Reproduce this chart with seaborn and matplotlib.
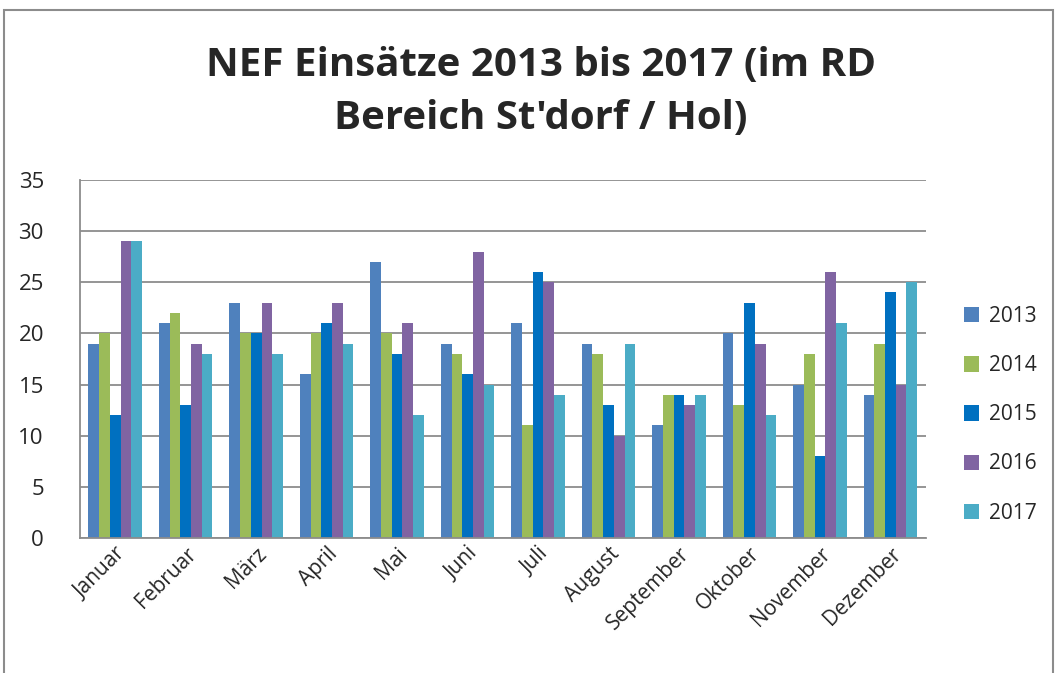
import pandas as pd
import matplotlib.pyplot as plt
import seaborn as sns
from matplotlib.patches import Rectangle

# Data
monate = ['Januar', 'Februar', 'März', 'April', 'Mai', 'Juni', 'Juli',
          'August', 'September', 'Oktober', 'November', 'Dezember']
jahre = ['2013', '2014', '2015', '2016', '2017']
werte_2013 = [19, 21, 23, 16, 27, 19, 21, 19, 11, 20, 15, 14]
werte_2014 = [20, 22, 20, 20, 20, 18, 11, 18, 14, 13, 18, 19]
werte_2015 = [12, 13, 20, 21, 18, 16, 26, 13, 14, 23, 8, 24]
werte_2016 = [29, 19, 23, 23, 21, 28, 25, 10, 13, 19, 26, 15]
werte_2017 = [29, 18, 18, 19, 12, 15, 14, 19, 14, 12, 21, 25]
farben = ['#4F81BD', '#9BBB59', '#0070C0', '#8064A2', '#4BACC6']

rows = []
for jahr, werte in zip(jahre, [werte_2013, werte_2014, werte_2015, werte_2016, werte_2017]):
    for monat, w in zip(monate, werte):
        rows.append({'Monat': monat, 'Jahr': jahr, 'Einsaetze': w})
df = pd.DataFrame(rows)

sns.set_style('white')
plt.rcParams['font.family'] = ['Open Sans', 'DejaVu Sans']

fig = plt.figure(figsize=(10.57, 6.73), dpi=100)
ax = fig.add_axes([0.0757, 0.2006, 0.80, 0.532])

sns.barplot(data=df, x='Monat', y='Einsaetze', hue='Jahr', order=monate,
            hue_order=jahre, palette=farben, width=0.76, gap=0,
            saturation=1, errorbar=None, linewidth=0, ax=ax)

ax.set_ylim(0, 35)
ax.set_yticks(range(0, 36, 5))
ax.set_xlim(-0.5, 11.5)
ax.yaxis.grid(True, color='#8c8c8c', linewidth=1.3)
ax.set_axisbelow(True)
for s in ['top', 'right']:
    ax.spines[s].set_visible(False)
ax.spines['left'].set_color('#8c8c8c')
ax.spines['bottom'].set_color('#8c8c8c')
ax.spines['left'].set_linewidth(1.3)
ax.spines['bottom'].set_linewidth(1.3)
ax.set_xlabel('')
ax.set_ylabel('')
ax.tick_params(axis='y', labelsize=16, length=0, pad=26)
ax.tick_params(axis='x', labelsize=15, length=0, pad=4)
plt.setp(ax.get_xticklabels(), rotation=45, ha='right', rotation_mode='anchor')

ax.legend(loc='center left', bbox_to_anchor=(1.045, 0.344), frameon=False,
          borderaxespad=0, borderpad=0,
          fontsize=15, handlelength=0.75, handleheight=0.75, labelspacing=1.35,
          handletextpad=0.45)

fig.text(0.512, 0.863, "NEF Einsätze 2013 bis 2017 (im RD\nBereich St'dorf / Hol)",
         ha='center', va='center', fontsize=29, fontweight='bold',
         linespacing=1.45)

fig.patches.append(Rectangle((0.004, -0.01), 0.992, 0.995, transform=fig.transFigure,
                             fill=False, edgecolor='#8c8c8c', linewidth=1.5))

plt.savefig('out.png', dpi=100)
